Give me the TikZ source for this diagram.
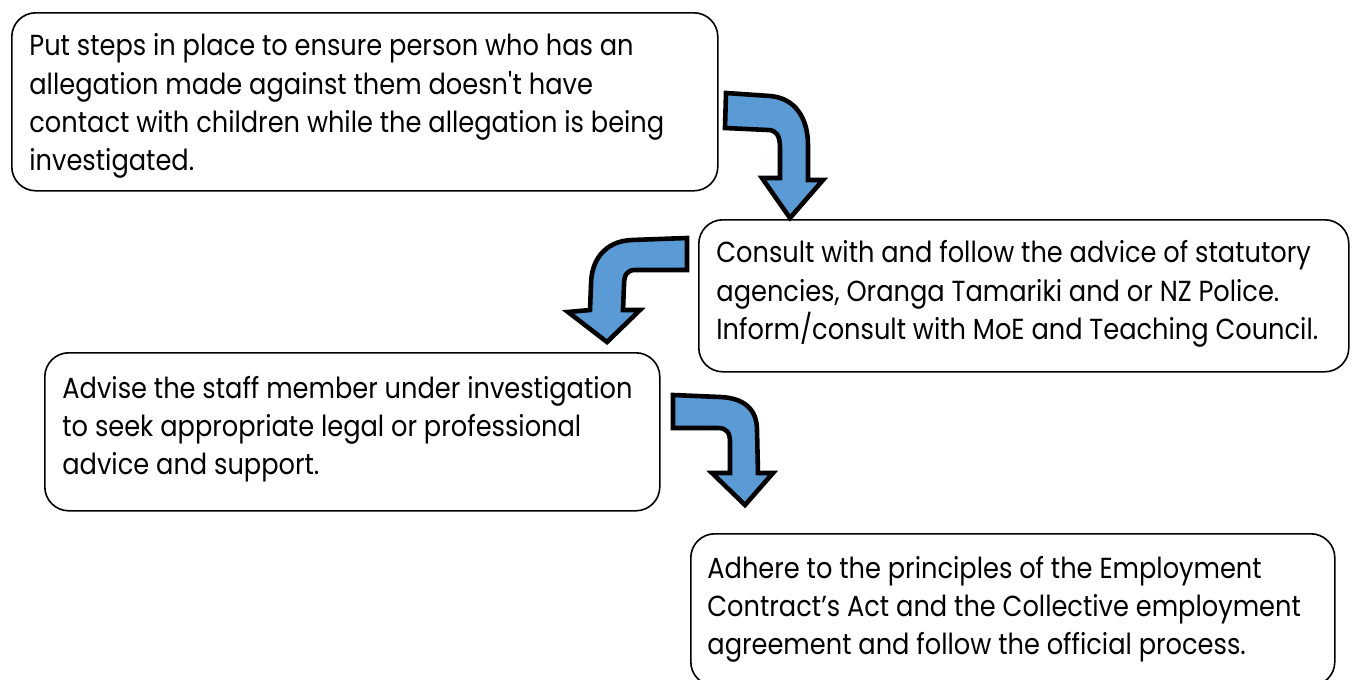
\documentclass[tikz,border=0pt]{standalone}
\usepackage{fontspec}
\setmainfont{Poppins}[FakeStretch=0.885]
\definecolor{arrowblue}{HTML}{5B9BD5}
\begin{document}
\begin{tikzpicture}[x=0.5pt,y=-0.5pt,
  box/.style={draw, line width=0.8pt, rounded corners=12pt, inner sep=0pt, anchor=north west},
  txt/.style={anchor=base west, inner sep=0pt, font=\fontsize{14.5pt}{19pt}\selectfont},
  bent/.style={draw, fill=arrowblue, line width=2.3pt, line join=miter}]
\useasboundingbox (0,0) rectangle (1357,680);
\clip (0,0) rectangle (1357,680);
% boxes
\node[box, minimum width=353pt, minimum height=89pt] (b1) at (11,12) {};
\node[box, minimum width=325pt, minimum height=76pt] (b2) at (698,219) {};
\node[box, minimum width=307.5pt, minimum height=79pt] (b3) at (44,352) {};
\node[box, minimum width=322pt, minimum height=76pt] (b4) at (690,533) {};
% texts
\node[txt] (t1a) at (29,55) {Put steps in place to ensure person who has an};
\node[txt] (t1b) at (29,94) {allegation made against them doesn\textquotesingle t have};
\node[txt] (t1c) at (29,132) {contact with children while the allegation is being};
\node[txt] (t1d) at (29,170) {investigated.};
\node[txt] (t2a) at (716,262) {Consult with and follow the advice of statutory};
\node[txt] (t2b) at (716,301) {agencies, Oranga Tamariki and or NZ Police.};
\node[txt] (t2c) at (716,339) {Inform/consult with MoE and Teaching Council.};
\node[txt] (t3a) at (62,398) {Advise the staff member under investigation};
\node[txt] (t3b) at (62,436) {to seek appropriate legal or professional};
\node[txt] (t3c) at (62,474) {advice and support.};
\node[txt] (t4a) at (707,578) {Adhere to the principles of the Employment};
\node[txt] (t4b) at (707,616) {Contract’s Act and the Collective employment};
\node[txt] (t4c) at (707,654) {agreement and follow the official process.};
% bent arrows
\draw[bent] (726,93) -- (770,96) .. controls (795,98) and (808,118) .. (808,145) -- (808,180) -- (823,180) -- (790,218) -- (762,178) -- (780,178) -- (780,148) .. controls (780,135) and (776,130) .. (768,130) -- (725,128) -- cycle;
\draw[bent] (687,238) -- (632,240) .. controls (605,241) and (591,260) .. (591,285) -- (590,310) -- (568,312) -- (607,342) -- (640,310) -- (623,310) -- (624,285) .. controls (624,275) and (627,270) .. (635,270) -- (687,270) -- cycle;
\draw[bent] (673,395) -- (720,397) .. controls (745,398) and (757,410) .. (757,430) -- (758,473) -- (773,473) -- (745,505) -- (712,473) -- (730,473) -- (730,442) .. controls (730,433) and (727,428) .. (718,428) -- (673,428) -- cycle;
\end{tikzpicture}
\end{document}
